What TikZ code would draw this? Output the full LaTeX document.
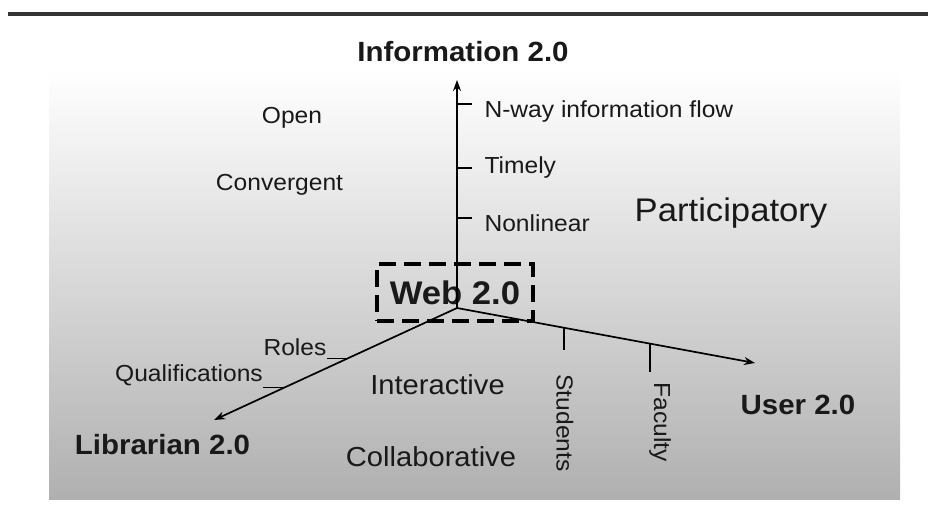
\documentclass[tikz,border=0pt]{standalone}
\usepackage{fontspec}
\setmainfont[FakeStretch=1.06]{Liberation Sans}
\usetikzlibrary{arrows.meta,calc}

\newlength{\du}
\setlength{\du}{10pt}
\newcommand{\labfont}{\fontsize{23.2}{27}\selectfont}
\newcommand{\midfont}{\fontsize{27.5}{32}\selectfont}
\newcommand{\bigfont}{\fontsize{32.7}{38}\selectfont}
\newcommand{\headfont}{\fontsize{27.8}{32}\selectfont\bfseries}
\newcommand{\webfont}{\fontsize{32.7}{38}\selectfont\bfseries}

\begin{document}
\begin{tikzpicture}
\pgftransformxscale{1.000000}
\pgftransformyscale{-1.000000}
\definecolor{dialinecolor}{rgb}{0.000000, 0.000000, 0.000000}
\pgfsetstrokecolor{dialinecolor}
\definecolor{textcolor}{rgb}{0.100000, 0.100000, 0.100000}
\useasboundingbox (0\du,0\du) rectangle (92.800000\du,51.500000\du);
% shaded panel behind the axes
\shade[top color=white, bottom color=black!31] (4.900000\du,7.000000\du) rectangle (90.000000\du,49.900000\du);
% rule across the top
\draw[line width=4pt, black!80] (0.800000\du,1.400000\du)--(92.800000\du,1.400000\du);
% setfont left to latex
\node[font=\headfont, text=textcolor] (info) at (46.300000\du,5.200000\du){Information 2.0};
\node[font=\headfont, text=textcolor] (lib) at (16.250000\du,44.500000\du){Librarian 2.0};
\node[font=\headfont, text=textcolor] (user) at (79.800000\du,40.500000\du){User 2.0};
% setfont left to latex
\node[font=\labfont, text=textcolor] (open) at (29.200000\du,11.800000\du){Open};
\node[font=\labfont, text=textcolor] (conv) at (27.950000\du,18.500000\du){Convergent};
\node[font=\labfont, text=textcolor, anchor=west] (nway) at (48.100000\du,11.100000\du){N-way information flow};
\node[font=\labfont, text=textcolor, anchor=west] (timely) at (48.100000\du,16.700000\du){Timely};
\node[font=\labfont, text=textcolor, anchor=west] (nonlin) at (48.100000\du,22.300000\du){Nonlinear};
\node[font=\bigfont, text=textcolor] (part) at (73.100000\du,21.300000\du){Participatory};
\node[font=\labfont, text=textcolor] (roles) at (29.500000\du,34.700000\du){Roles};
\node[font=\labfont, text=textcolor] (quals) at (18.900000\du,37.500000\du){Qualifications};
\node[font=\midfont, text=textcolor] (inter) at (43.750000\du,38.500000\du){Interactive};
\node[font=\midfont, text=textcolor] (collab) at (43.100000\du,45.700000\du){Collaborative};
\node[font=\labfont, text=textcolor, rotate=-90] (stud) at (56.500000\du,42.300000\du){Students};
\node[font=\labfont, text=textcolor, rotate=-90] (fac) at (66.000000\du,42.200000\du){Faculty};
% dashed box round the centre
\node[draw=dialinecolor, line width=0.320000\du, dash pattern=on 1.700000\du off 0.800000\du, font=\webfont, text=textcolor, minimum width=15.600000\du, minimum height=5.700000\du] (web) at (45.500000\du,29.250000\du){Web 2.0};
% axes
\coordinate (o) at (45.700000\du,30.800000\du);
\coordinate (itip) at (45.700000\du,8.000000\du);
\coordinate (ltip) at (21.400000\du,42.000000\du);
\coordinate (utip) at (75.500000\du,36.300000\du);
\pgfsetlinewidth{0.170000\du}
\pgfsetdash{}{0pt}
\pgfsetbuttcap
{
\pgfsetarrowsend{Stealth[length=11pt,width=8pt]}
\draw (o)--(itip);
}
{
\pgfsetarrowsend{Stealth[length=11pt,width=8pt]}
\draw (o)--(ltip);
}
{
\pgfsetarrowsend{Stealth[length=11pt,width=8pt]}
\draw (o)--(utip);
}
% ticks on the axes
\pgfsetlinewidth{0.140000\du}
\coordinate (t1) at (45.700000\du,10.400000\du);
\coordinate (t2) at (45.700000\du,16.800000\du);
\coordinate (t3) at (45.700000\du,21.800000\du);
\draw (t1)--++(1.500000\du,0\du);
\draw (t2)--++(1.500000\du,0\du);
\draw (t3)--++(1.500000\du,0\du);
\coordinate (lr) at ($(o)!0.449!(ltip)$);
\coordinate (lq) at ($(o)!0.708!(ltip)$);
\draw (lr)--++(-2.100000\du,0\du);
\draw (lq)--++(-2.200000\du,0\du);
\coordinate (us) at ($(o)!0.359!(utip)$);
\coordinate (uf) at ($(o)!0.648!(utip)$);
\draw (us)--++(0\du,2.200000\du);
\draw (uf)--++(0\du,2.800000\du);
\end{tikzpicture}
\end{document}
